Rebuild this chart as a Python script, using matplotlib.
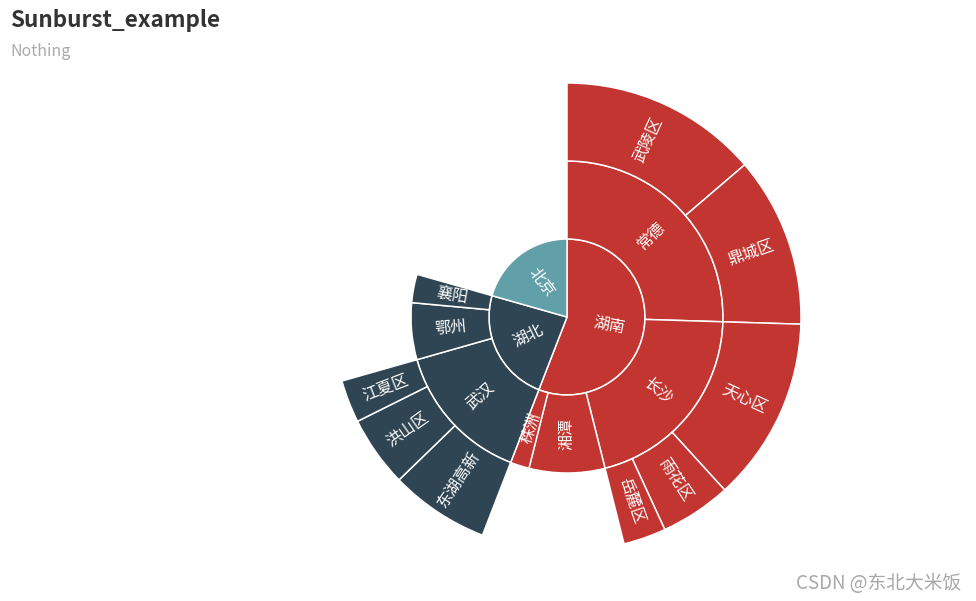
import matplotlib
matplotlib.use('Agg')
import matplotlib.pyplot as plt
import numpy as np

plt.rcParams['font.family'] = ['Noto Sans CJK SC', 'DejaVu Sans']

# level 1 (provinces), sorted large -> small like echarts does
provinces = ['湖南', '湖北', '北京']
province_colors = ['#c23531', '#2f4554', '#61a0a8']
province_leaf_values = {'北京': 21}

# level 2 (cities)
cities = ['常德', '长沙', '湘潭', '株洲', '武汉', '鄂州', '襄阳']
city_parent = ['湖南', '湖南', '湖南', '湖南', '湖北', '湖北', '湖北']
city_leaf_values = {'湘潭': 8, '株洲': 2, '鄂州': 6, '襄阳': 3}

# level 3 (districts)
districts = ['武陵区', '鼎城区', '天心区', '雨花区', '岳麓区', '东湖高新', '洪山区', '江夏区']
district_parent = ['常德', '常德', '长沙', '长沙', '长沙', '武汉', '武汉', '武汉']
district_values = [14, 12, 13, 5, 3, 7, 5, 3]

# pixel geometry of the figure
W, H = 976, 601
cx, cy = 567, H - 317
ring_r = [78, 156, 234]

# --- work out values of each node ---
city_values = []
for c in cities:
    if c in city_leaf_values:
        city_values.append(city_leaf_values[c])
    else:
        city_values.append(sum(v for d, p, v in zip(districts, district_parent, district_values) if p == c))

province_values = []
for p in provinces:
    if p in province_leaf_values:
        province_values.append(province_leaf_values[p])
    else:
        province_values.append(sum(v for c, pp, v in zip(cities, city_parent, city_values) if pp == p))

color_of = dict(zip(provinces, province_colors))

# ring entries: (label, value, color, visible)
ring1 = [(p, v, color_of[p], True) for p, v in zip(provinces, province_values)]

ring2 = []
for p, v in zip(provinces, province_values):
    kids = [(c, cv) for c, pp, cv in zip(cities, city_parent, city_values) if pp == p]
    if kids:
        ring2 += [(c, cv, color_of[p], True) for c, cv in kids]
    else:
        ring2.append(('', v, 'white', False))

ring3 = []
for lab, v, col, vis in ring2:
    kids = [(d, dv) for d, pp, dv in zip(districts, district_parent, district_values) if pp == lab]
    if vis and kids:
        ring3 += [(d, dv, col, True) for d, dv in kids]
    else:
        ring3.append(('', v, 'white', False))

fig = plt.figure(figsize=(W / 100, H / 100), dpi=100)
ax = fig.add_axes([0, 0, 1, 1])

def draw_ring(entries, r_in, r_out, label_frac=0.5):
    vals = [e[1] for e in entries]
    cols = [e[2] for e in entries]
    wedges, _ = ax.pie(vals, colors=cols, radius=r_out, center=(cx, cy),
                       startangle=90, counterclock=False,
                       wedgeprops=dict(width=r_out - r_in, edgecolor='white', linewidth=1.1))
    r_lab = r_in + (r_out - r_in) * label_frac
    for w, (lab, v, col, vis) in zip(wedges, entries):
        if not vis:
            w.set_visible(False)
            continue
        mid = (w.theta1 + w.theta2) / 2.0
        rad = np.deg2rad(mid)
        x = cx + r_lab * np.cos(rad)
        y = cy + r_lab * np.sin(rad)
        rot = mid % 360
        if 90 < rot <= 270:
            rot -= 180
        elif rot > 270:
            rot -= 360
        ax.text(x, y, lab, color='white', fontsize=11.5, fontweight='medium',
                rotation=rot, rotation_mode='anchor', ha='center', va='center')

draw_ring(ring1, 0, ring_r[0], label_frac=0.55)
draw_ring(ring2, ring_r[0], ring_r[1])
draw_ring(ring3, ring_r[1], ring_r[2])

ax.set_xlim(0, W)
ax.set_ylim(0, H)
ax.set_aspect('equal')
ax.axis('off')

fig.text(10 / W, 1 - 27 / H, 'Sunburst_example', fontsize=16.2, fontweight='bold',
         color='#333333', ha='left', va='baseline')
fig.text(10 / W, 1 - 56 / H, 'Nothing', fontsize=11.5, color='#aaaaaa',
         ha='left', va='baseline')
fig.text(961 / W, 1 - 589 / H, 'CSDN @东北大米饭', fontsize=13.5, color='#a8a8a8',
         ha='right', va='baseline')

fig.savefig('out.png', dpi=100)
